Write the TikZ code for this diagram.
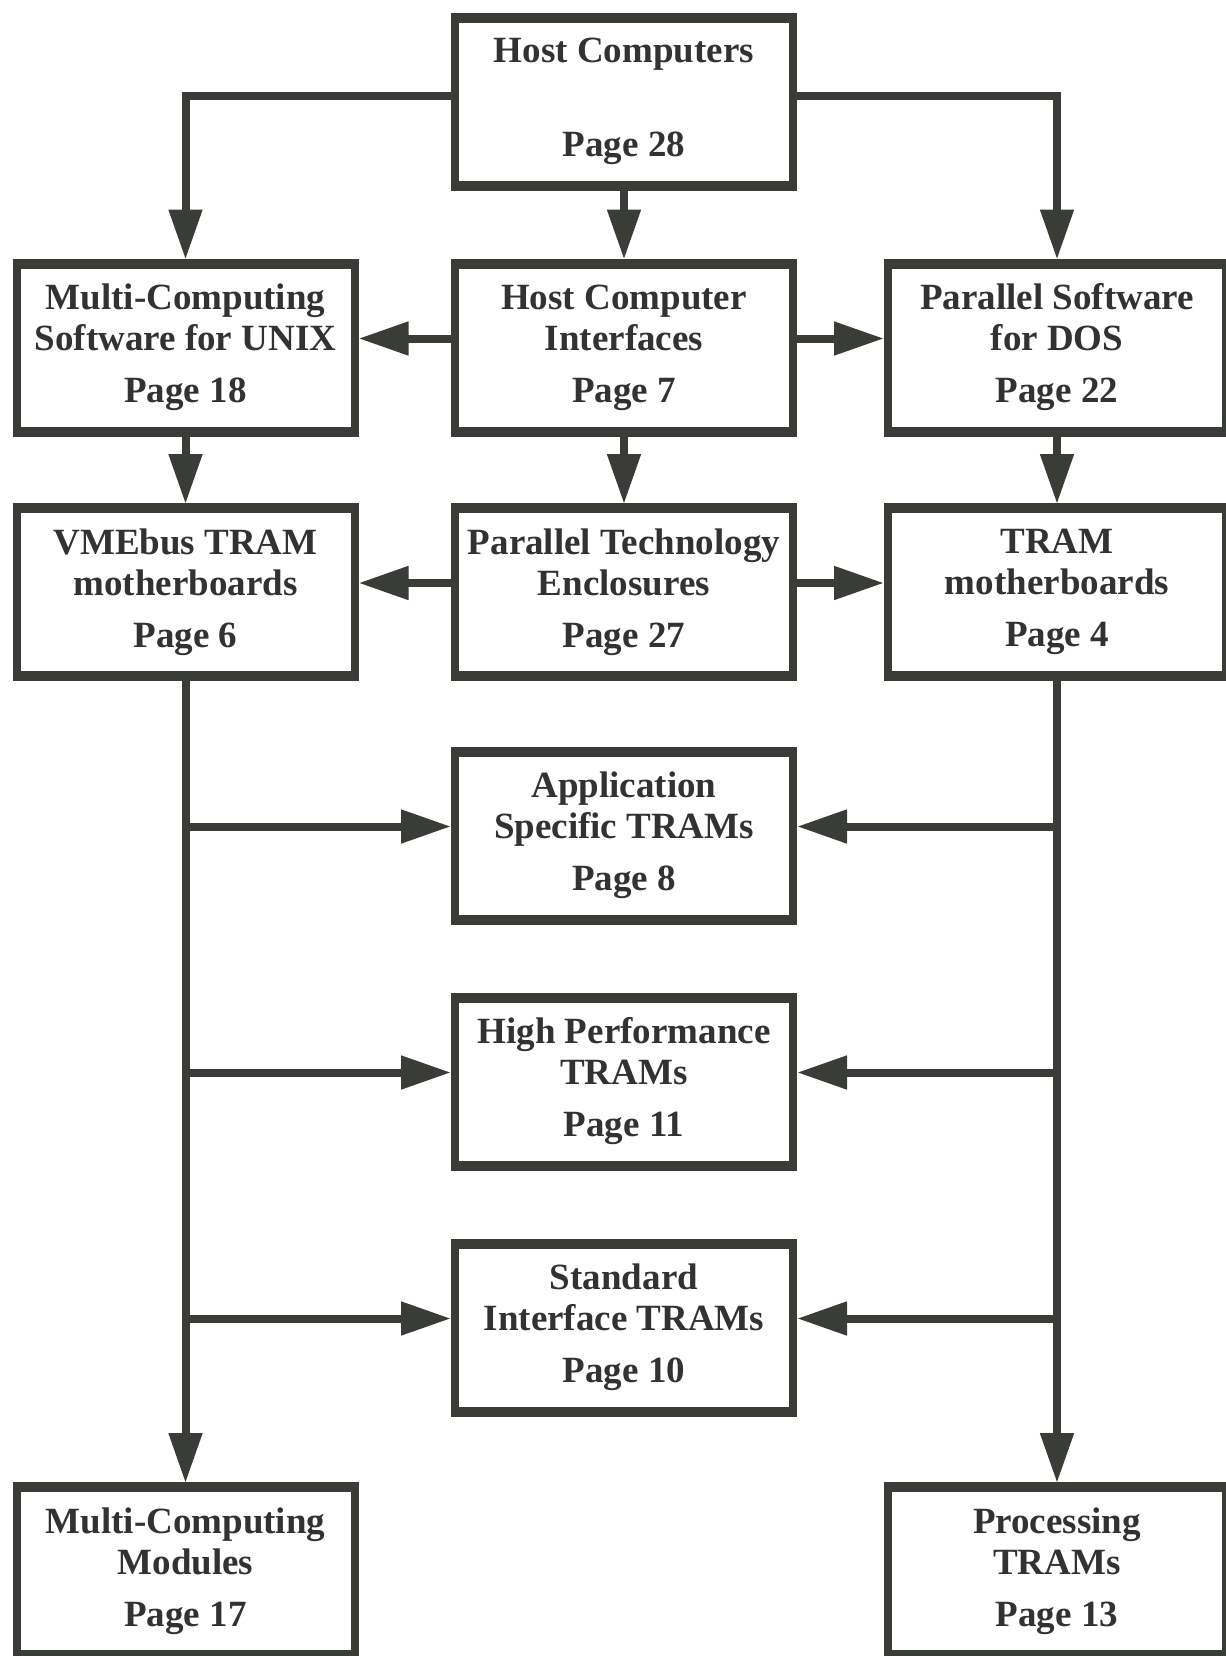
\documentclass[tikz,border=0pt]{standalone}
\usepackage{fontspec}
\setmainfont{Liberation Serif}
\usetikzlibrary{arrows.meta}
\definecolor{ink}{RGB}{58,61,55}
\definecolor{txt}{RGB}{50,50,48}
\begin{document}
\begin{tikzpicture}[x=0.5pt,y=-0.5pt,
  box/.style={draw=ink, line width=4pt, fill=white, minimum width=169pt,
    minimum height=84pt, inner sep=0pt, align=center, text=txt,
    font=\fontsize{18.5}{20.5}\selectfont\bfseries},
  conn/.style={draw=ink, line width=4pt},
  arr/.style={conn, -{Triangle[length=25pt,width=16pt]}},
  thickedge/.style={draw=ink, line width=5pt}]
\fill[white] (0,0) rectangle (1226,1656);
\useasboundingbox (0,0) rectangle (1226,1656);

\node[box] (hc)   at (624,101.5)  {Host Computers\\[26.5pt]Page 28};
\node[box] (mcs)  at (185.5,347.5) {Multi-Computing\\Software for UNIX\\[5.5pt]Page 18};
\node[box] (hci)  at (624,347.5)  {Host Computer\\Interfaces\\[5.5pt]Page 7};
\node[box] (pds)  at (1057,347.5) {Parallel Software\\for DOS\\[5.5pt]Page 22};
\node[box] (vme)  at (185.5,592)  {VMEbus TRAM\\motherboards\\[5.5pt]Page 6};
\node[box] (pte)  at (624,592)    {Parallel Technology\\Enclosures\\[5.5pt]Page 27};
\node[box] (tram) at (1057,592)   {TRAM\\motherboards\\[5.5pt]Page 4};
\node[box] (app)  at (624,835.5)  {Application\\Specific TRAMs\\[5.5pt]Page 8};
\node[box] (hp)   at (624,1081.5) {High Performance\\TRAMs\\[5.5pt]Page 11};
\node[box] (std)  at (624,1327.5) {Standard\\Interface TRAMs\\[5.5pt]Page 10};
\node[box] (mcm)  at (185.5,1571) {Multi-Computing\\Modules\\[5.5pt]Page 17};
\node[box] (proc) at (1057,1571)  {Processing\\TRAMs\\[5.5pt]Page 13};

\foreach \n in {hc,mcs,hci,pds,vme,pte,tram,app,hp,std,mcm,proc}{
  \draw[thickedge] ([yshift=-2pt]\n.north west) -- ([yshift=-2pt]\n.north east);
  \draw[thickedge] ([yshift=2pt]\n.south west) -- ([yshift=2pt]\n.south east);
}

% top level
\draw[arr] ([yshift=2.75pt]hc.west) -| (mcs.north);
\draw[arr] ([yshift=2.75pt]hc.east) -| (pds.north);
\draw[arr] (hc.south) -- (hci.north);
% second row
\draw[arr] ([yshift=4.5pt]hci.west) -- ([yshift=4.5pt]mcs.east);
\draw[arr] ([yshift=4.5pt]hci.east) -- ([yshift=4.5pt]pds.west);
\draw[arr] (mcs.south) -- (vme.north);
\draw[arr] (hci.south) -- (pte.north);
\draw[arr] (pds.south) -- (tram.north);
% third row
\draw[arr] ([yshift=4.5pt]pte.west) -- ([yshift=4.5pt]vme.east);
\draw[arr] ([yshift=4.5pt]pte.east) -- ([yshift=4.5pt]tram.west);
% trunks
\draw[arr] (vme.south) -- (mcm.north);
\draw[arr] (tram.south) -- (proc.north);
% branches
\foreach \t in {app,hp,std}{
  \coordinate (\t-L) at ([yshift=4.5pt]\t.west);
  \coordinate (\t-R) at ([yshift=4.5pt]\t.east);
  \draw[arr] (vme.south |- \t-L) -- (\t-L);
  \draw[arr] (tram.south |- \t-R) -- (\t-R);
}
\end{tikzpicture}
\end{document}
